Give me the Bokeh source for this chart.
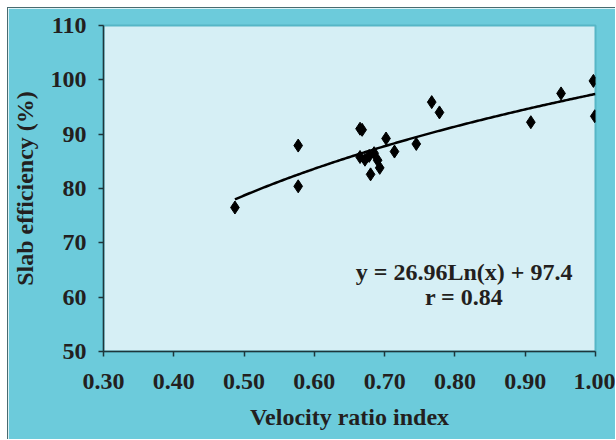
import numpy as np
from bokeh.plotting import figure
from bokeh.models import Range1d, FixedTicker, NumeralTickFormatter
from bokeh.core.properties import value
from bokeh.embed import file_html
from bokeh.resources import INLINE

# measured data points (velocity ratio index, slab efficiency %)
vel_ratio = [0.487, 0.577, 0.577, 0.665, 0.668, 0.665, 0.672, 0.678, 0.685,
             0.690, 0.680, 0.693, 0.702, 0.714, 0.745, 0.767, 0.778, 0.908,
             0.951, 0.997, 0.999]
slab_eff = [76.5, 87.9, 80.4, 91.0, 90.8, 85.8, 85.3, 86.0, 86.5,
            85.2, 82.6, 83.8, 89.2, 86.8, 88.2, 95.9, 94.0, 92.2,
            97.5, 99.8, 93.3]

# fitted trend: y = a*ln(x) + b
fit_a = 26.96
fit_b = 97.4
fit_x_min = 0.487
fit_x_max = 1.0

x_ticks = [0.30, 0.40, 0.50, 0.60, 0.70, 0.80, 0.90, 1.00]
y_ticks = [50, 60, 70, 80, 90, 100, 110]

eq_label = "y = 26.96Ln(x) + 97.4"
r_label = "r = 0.84"

FONT = "Liberation Serif"
TXT = "#231f20"

p = figure(width=608, height=432, output_backend="svg", toolbar_location=None,
           x_range=Range1d(0.30, 1.00), y_range=Range1d(50, 110),
           min_border_left=94, min_border_right=21, min_border_top=17,
           min_border_bottom=89,
           styles={"margin-left": "7px", "margin-top": "7px",
                   "border-left": "1px solid #4a6b70",
                   "border-top": "1px solid #4a6b70"})

p.border_fill_color = "#6ccbdb"
p.background_fill_color = "#d6eff5"
p.outline_line_color = "#56b6c6"
p.outline_line_width = 2
p.xgrid.visible = False
p.ygrid.visible = False

for ax in (p.xaxis[0], p.yaxis[0]):
    ax.axis_line_color = "#1e363b"
    ax.axis_line_width = 1.5
    ax.major_tick_line_color = "#1e363b"
    ax.major_tick_line_width = 1.5
    ax.major_tick_in = 0
    ax.major_tick_out = 5
    ax.minor_tick_line_color = None
    ax.major_label_text_font = FONT
    ax.major_label_text_font_style = "bold"
    ax.major_label_text_font_size = "24px"
    ax.major_label_text_color = TXT
    ax.axis_label_text_font = FONT
    ax.axis_label_text_font_style = "bold"
    ax.axis_label_text_font_size = "24px"
    ax.axis_label_text_color = TXT

p.xaxis.ticker = FixedTicker(ticks=x_ticks)
p.xaxis.formatter = NumeralTickFormatter(format="0.00")
p.yaxis.ticker = FixedTicker(ticks=y_ticks)
p.xaxis.axis_label = "Velocity ratio index"
p.yaxis.axis_label = "Slab efficiency (%)"
p.xaxis.major_label_standoff = 17
p.xaxis.axis_label_standoff = 12
p.yaxis.major_label_standoff = 12
p.yaxis.axis_label_standoff = 10

# trend line computed from the fitted equation
fx = np.linspace(fit_x_min, fit_x_max, 200)
fy = fit_a * np.log(fx) + fit_b
p.line(fx, fy, line_color="black", line_width=2.5)

p.scatter(vel_ratio, slab_eff, marker="diamond", size=13,
          fill_color="black", line_color="black")

p.text(x=[0.813], y=[64.7], text=[eq_label], text_align="center",
       text_baseline="alphabetic", text_font=value(FONT),
       text_font_style="bold", text_font_size="24px", text_color=TXT)
p.text(x=[0.813], y=[60.0], text=[r_label], text_align="center",
       text_baseline="alphabetic", text_font=value(FONT),
       text_font_style="bold", text_font_size="24px", text_color=TXT)

open("out.html", "w").write(file_html(p, INLINE))
